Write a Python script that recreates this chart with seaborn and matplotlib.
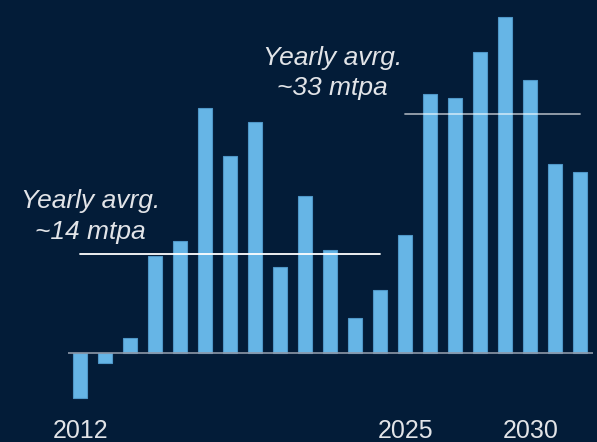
import matplotlib
matplotlib.use("Agg")
import matplotlib.pyplot as plt
import numpy as np
import pandas as pd
import seaborn as sns

# Yearly volumes (mtpa)
years = list(range(2012, 2033))
volumes = [-6.4, -1.5, 2.0, 13.5, 15.6, 34.2, 27.5, 32.2, 12.0, 21.9, 14.3,
           4.8, 8.8, 16.4, 36.2, 35.6, 42.0, 46.9, 38.1, 26.4, 25.3]
tick_years = [2012, 2025, 2030]
period_1 = (2012, 2024)
period_2 = (2025, 2032)
label_1 = "Yearly avrg.\n~14 mtpa"
label_2 = "Yearly avrg.\n~33 mtpa"

BG = "#031c38"
BAR = "#66b5e6"
TEXT = "#e2e4e8"

sns.set_theme(style="white")
plt.rcParams["font.family"] = ["Liberation Sans", "DejaVu Sans"]

df = pd.DataFrame({"year": years, "volume": volumes})

fig = plt.figure(figsize=(5.97, 4.42), dpi=100, facecolor=BG)
ax = fig.add_axes([67.7 / 597, 0.0, 525 / 597, 1.0])
ax.set_facecolor(BG)

sns.barplot(data=df, x="year", y="volume", order=years, color=BAR,
            saturation=1, width=0.56, edgecolor="#4f97c8", linewidth=0.8, ax=ax)

ax.set_xlim(-0.5, 20.5)
ax.set_ylim(-12.5, 49.3)

# zero baseline
ax.axhline(0, color="#8d98a8", linewidth=1.2, zorder=3)

# period averages
def avg_line(period, color, alpha):
    mask = (df["year"] >= period[0]) & (df["year"] <= period[1])
    m = df.loc[mask, "volume"].mean()
    i0 = years.index(period[0])
    i1 = years.index(period[1])
    ax.plot([i0, i1], [m, m], color=color, alpha=alpha, linewidth=1.3, zorder=4)
    return m

avg_line(period_1, "white", 1.0)
avg_line(period_2, "white", 0.6)

ax.text(0.4, 19.0, label_1, ha="center", va="center", fontsize=19,
        style="italic", color=TEXT, linespacing=1.35)
ax.text(10.08, 39.1, label_2, ha="center", va="center", fontsize=19,
        style="italic", color=TEXT, linespacing=1.35)

# year labels under the bars
for y in tick_years:
    ax.text(years.index(y), -10.9, str(y), ha="center", va="center",
            fontsize=18, color=TEXT)

ax.set_xticks([])
ax.set_yticks([])
ax.set_xlabel("")
ax.set_ylabel("")
for s in ax.spines.values():
    s.set_visible(False)

fig.savefig("out.png", dpi=100, facecolor=BG)
